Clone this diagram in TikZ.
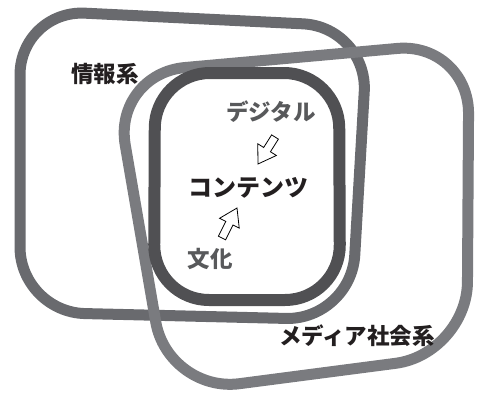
\documentclass[tikz,border=0pt]{standalone}
\usepackage{fontspec}
\newfontfamily\jpfont{Noto Sans CJK JP}
\usetikzlibrary{calc}
\tikzset{>=latex}
\definecolor{infogray}{HTML}{696A6E}
\definecolor{mediagray}{HTML}{7A7B7F}
\definecolor{contgray}{HTML}{505053}
\definecolor{subgray}{HTML}{58595B}
\definecolor{textblack}{HTML}{231F20}

\tikzset{
  ring/.style={line width=11pt,line join=round,rounded corners=#1},
  systext/.style={font=\jpfont\bfseries\fontsize{22.5}{22.5}\selectfont,text=textblack,inner sep=0pt},
  subtext/.style={systext,text=subgray},
}

\newcommand{\blockarrow}[2]{%
  \filldraw[fill=white,draw=black,line width=.8pt,line join=miter]
    ($(#1)!4pt!90:(#2)$) -- ($(#2)!17pt!(#1)!4pt!-90:(#1)$)
    -- ($(#2)!17pt!(#1)!11pt!-90:(#1)$) -- (#2)
    -- ($(#2)!17pt!(#1)!11pt!90:(#1)$) -- ($(#2)!17pt!(#1)!4pt!90:(#1)$)
    -- ($(#1)!4pt!-90:(#2)$) -- cycle;
}

\begin{document}
\begin{tikzpicture}[x=1pt,y=-1pt]
    \useasboundingbox (0,0) rectangle (484,396);

    % info
    \coordinate (A1) at (20,10);
    \coordinate (A2) at (368,27);
    \coordinate (A3) at (351,320);
    \coordinate (A4) at (20,312);
    % media
    \coordinate (B1) at (113,74);
    \coordinate (B2) at (469,42);
    \coordinate (B3) at (467,354);
    \coordinate (B4) at (168,393);
    % contents
    \coordinate (C1) at (155,73);
    \coordinate (C2) at (339,73);
    \coordinate (C3) at (340,300);
    \coordinate (C4) at (154,300);

    \draw[ring=65pt,draw=infogray] (A1)--(A2)--(A3)--(A4)--cycle;
    \draw[ring=72pt,draw=mediagray] (B1)--(B2)--(B3)--(B4)--cycle;
    \draw[ring=55pt,draw=contgray,line width=12pt] (C1)--(C2)--(C3)--(C4)--cycle;

    \node[systext] (info) at (105,74) {情報系};
    \node[systext] (media) at (357,336) {メディア社会系};
    \node[systext,font=\jpfont\bfseries\fontsize{24}{24}\selectfont] (cont) at (248,188) {コンテンツ};
    \node[subtext] (digi) at (271,112) {デジタル};
    \node[subtext] (cult) at (210,259) {文化};

    \coordinate (digi-s) at (275,137);
    \coordinate (digi-e) at (258,164);
    \coordinate (cult-s) at (222,238);
    \coordinate (cult-e) at (237,208);
    \blockarrow{digi-s}{digi-e}
    \blockarrow{cult-s}{cult-e}
\end{tikzpicture}
\end{document}
